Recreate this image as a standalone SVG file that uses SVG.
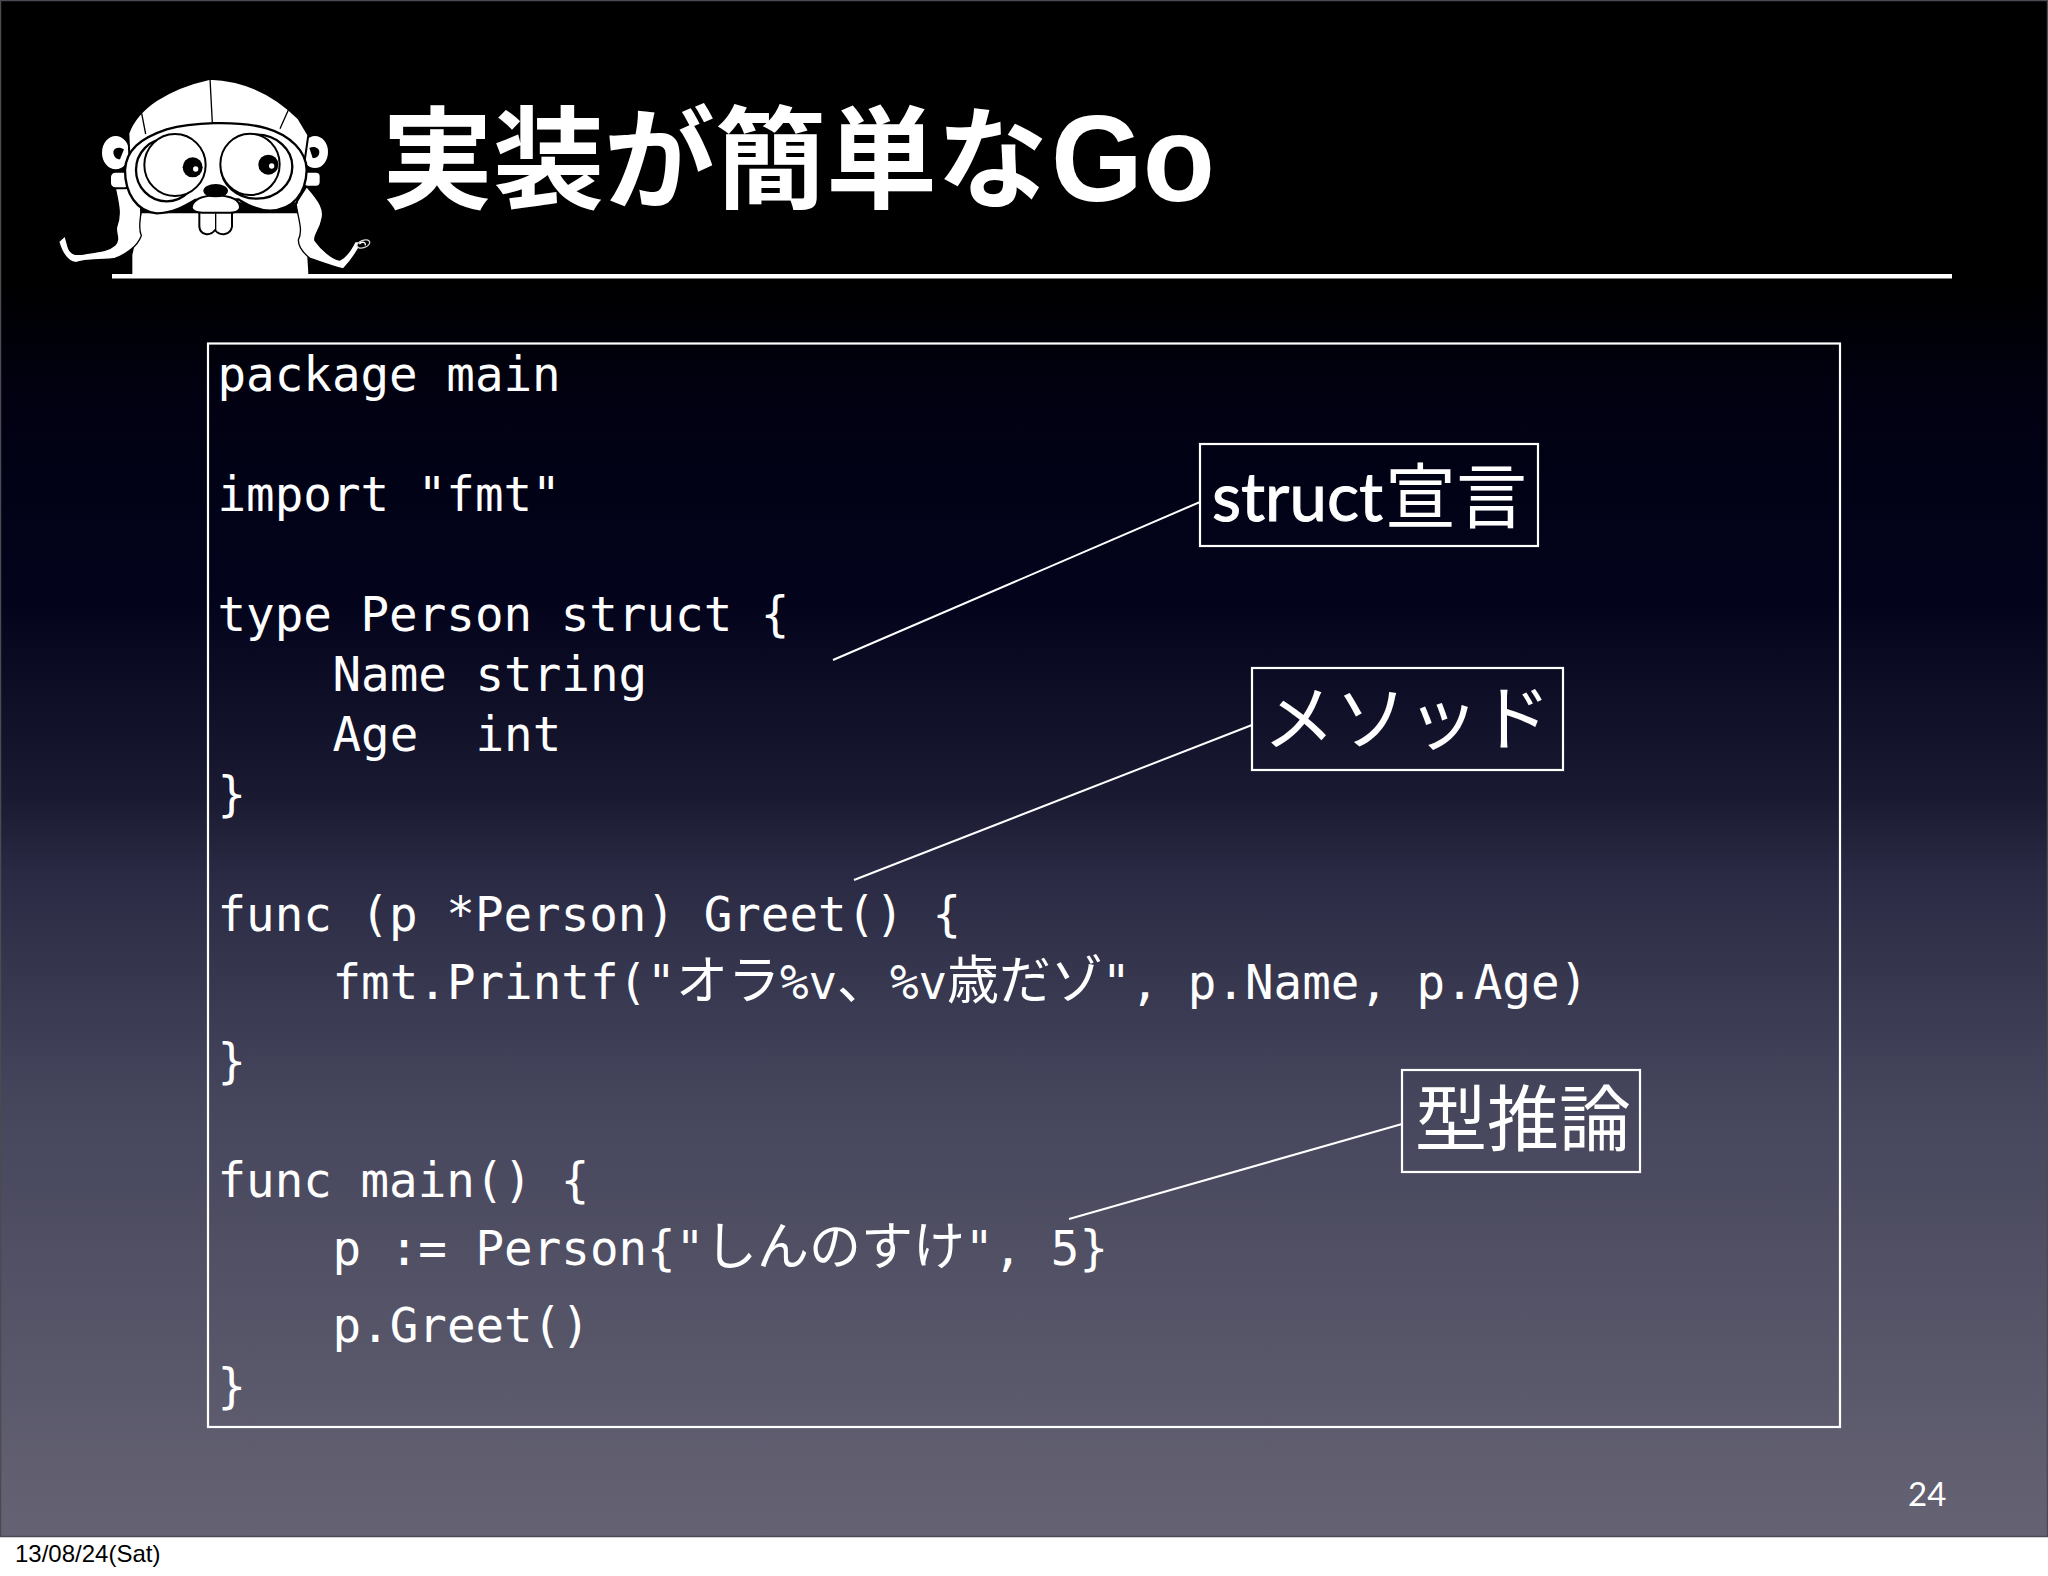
<svg xmlns="http://www.w3.org/2000/svg" width="2048" height="1576" viewBox="0 0 2048 1576">
<style>
.code{font-family:"DejaVu Sans Mono","Liberation Mono",monospace;font-size:47.5px;fill:#fff}
.cjk{font-family:"Noto Sans CJK JP",sans-serif;font-size:52px;font-weight:400}
.label{font-family:"Noto Sans CJK JP",sans-serif;font-weight:400;fill:#fff}
.box{fill:none;stroke:#fff;stroke-width:2.2}
.conn{stroke:#fff;stroke-width:2;fill:none}
.w{fill:#fff;stroke:#000;stroke-width:6;stroke-linejoin:round}
.t{fill:#fff;stroke:#000;stroke-width:4;stroke-linejoin:round}
.n{fill:none;stroke:#000;stroke-width:7}
.l{fill:none;stroke:#000;stroke-width:4}
</style>
<defs>
<linearGradient id="bg" x1="0" y1="0" x2="0" y2="1">
<stop offset="0" stop-color="#000"/>
<stop offset="0.18" stop-color="#000"/>
<stop offset="0.26" stop-color="#010112"/>
<stop offset="0.39" stop-color="#03031c"/>
<stop offset="0.52" stop-color="#1a1a32"/>
<stop offset="0.57" stop-color="#2a2a44"/>
<stop offset="0.715" stop-color="#45455c"/>
<stop offset="1" stop-color="#656373"/>
</linearGradient>
</defs>
<rect width="2048" height="1576" fill="#fff"/>
<rect x="0" y="0" width="2048" height="1537" fill="url(#bg)"/>
<rect x="0.5" y="0.5" width="2047" height="1536" fill="none" stroke="#4a4a52" stroke-width="1.5"/>

<g id="gopher" transform="translate(50 70) scale(.33333)">
<path d="M247,612V555L275,430H745L772,560L775,612Z" fill="#fff"/>
<path class="t" d="M195,350C205,400 215,430 200,470C195,490 212,505 195,525C170,548 130,545 100,552C75,556 60,552 54,530L45,497C38,505 30,510 26,515C35,545 50,575 78,578C110,565 160,572 195,565C225,555 262,530 274,497C262,470 275,440 272,420L270,350Z"/>
<path class="t" d="M770,350C810,395 825,420 815,450C810,480 790,495 795,512C815,540 850,570 870,570C890,560 905,535 915,515L935,515C925,540 905,570 880,597C850,590 810,575 780,565C755,545 745,525 745,510C760,480 745,450 738,400Z"/>
<ellipse cx="197" cy="248" rx="44" ry="53" class="w"/>
<ellipse cx="795" cy="246" rx="42" ry="51" class="w"/>
<path d="M190,245C192,232 210,230 222,238L210,268C198,268 190,258 190,245Z"/>
<path d="M808,245C806,232 790,228 778,234L788,264C800,264 808,258 808,245Z"/>
<rect x="180" y="305" width="60" height="50" rx="16" class="w"/>
<rect x="760" y="305" width="52" height="45" rx="14" class="w"/>
<path class="w" d="M240,300L235,190C262,115 350,55 480,26C590,30 680,80 745,145L775,195L760,300L740,400H260Z" stroke-width="5"/>
<path class="l" d="M480,26L487,158M275,130L287,192M716,118L690,176"/>
<path class="n" style="fill:#fff" d="M225,300C228,240 270,205 350,178C420,158 560,150 650,175C720,195 770,245 770,300C768,370 730,420 660,422C620,422 590,402 565,388L435,390C410,405 370,430 320,430C260,425 225,370 225,300Z"/>
<ellipse cx="350" cy="300" rx="92" ry="94" class="n" stroke-width="5"/>
<ellipse cx="620" cy="290" rx="107" ry="96" class="n" stroke-width="5"/>
<ellipse cx="375" cy="285" rx="92" ry="93" class="w" stroke-width="9"/>
<ellipse cx="600" cy="283" rx="89" ry="92" class="w" stroke-width="9"/>
<circle cx="428" cy="292" r="30"/><circle cx="437" cy="297" r="8" fill="#fff"/>
<circle cx="655" cy="284" r="30"/><circle cx="665" cy="288" r="8" fill="#fff"/>
<path class="w" d="M448,425V470C450,495 480,500 495,480C510,500 542,495 546,470V425Z"/>
<path class="l" d="M497,430V480"/>
<path class="w" d="M425,412C428,390 450,378 497,375C545,378 570,392 570,412C568,428 550,430 500,428C450,430 428,428 425,412Z"/>
<ellipse cx="497" cy="362" rx="37" ry="20"/>
<ellipse cx="940" cy="522" rx="20" ry="11" transform="rotate(-20 940 522)" fill="#000" stroke="#ddd" stroke-width="4"/>
<path d="M928,522C935,512 950,518 945,526" fill="none" stroke="#fff" stroke-width="4"/>
</g>

<g id="title">
<text x="382" y="200" font-family="Noto Sans CJK JP,sans-serif" font-weight="700" font-size="111" fill="#fff">実装が簡単な</text>
<text x="1051" y="201" font-family="Liberation Sans,sans-serif" font-weight="700" font-size="123" textLength="164" lengthAdjust="spacingAndGlyphs" fill="#fff">Go</text>
<rect x="112" y="274" width="1840" height="4.5" fill="#fff"/>
</g>

<g id="connectors">
<line class="conn" x1="1200" y1="502" x2="833" y2="660"/>
<line class="conn" x1="1252" y1="725" x2="854" y2="880"/>
<line class="conn" x1="1402" y1="1124" x2="1069" y2="1219"/>
</g>

<g id="code">
<rect class="box" x="208" y="343.5" width="1632" height="1083.5"/>
<text class="code" x="217.5" y="391">package main</text>
<text class="code" x="217.5" y="511">import "fmt"</text>
<text class="code" x="217.5" y="631">type Person struct {</text>
<text class="code" x="332.5" y="691">Name string</text>
<text class="code" x="332.5" y="751" xml:space="preserve">Age  int</text>
<text class="code" x="217.5" y="811">}</text>
<text class="code" x="217.5" y="931">func (p *Person) Greet() {</text>
<text class="code" y="999"><tspan x="332.5">fmt.Printf("</tspan><tspan x="676" class="cjk">オラ</tspan><tspan x="780">%v</tspan><tspan x="837" class="cjk">、</tspan><tspan x="890">%v</tspan><tspan x="947" class="cjk">歳だゾ</tspan><tspan x="1102" xml:space="preserve">", p.Name, p.Age)</tspan></text>
<text class="code" x="217.5" y="1078">}</text>
<text class="code" x="217.5" y="1197">func main() {</text>
<text class="code" y="1265"><tspan x="332.5">p := Person{"</tspan><tspan x="705" class="cjk">しんのすけ</tspan><tspan x="965" xml:space="preserve">", 5}</tspan></text>
<text class="code" x="332.5" y="1342">p.Greet()</text>
<text class="code" x="217.5" y="1403">}</text>
</g>

<g id="node-struct">
<rect class="box" x="1200" y="444" width="338" height="102"/>
<text x="1212" y="521" font-family="Lato,sans-serif" font-size="68" fill="#fff" stroke="#fff" stroke-width="1" textLength="171" lengthAdjust="spacingAndGlyphs">struct</text>
<text class="label" x="1385" y="522" font-size="71">宣言</text>
</g>
<g id="node-method">
<rect class="box" x="1252" y="668" width="311" height="102"/>
<text class="label" x="1263" y="744" font-size="72">メソッド</text>
</g>
<g id="node-infer">
<rect class="box" x="1402" y="1070" width="238" height="102"/>
<text class="label" x="1415" y="1145" font-size="72">型推論</text>
</g>
<text id="page" x="1908" y="1506" font-family="Lato,sans-serif" font-size="33" fill="#fff">24</text>
<text id="date" x="15" y="1562" font-family="Liberation Sans,sans-serif" font-size="24" fill="#000">13/08/24(Sat)</text>
</svg>
